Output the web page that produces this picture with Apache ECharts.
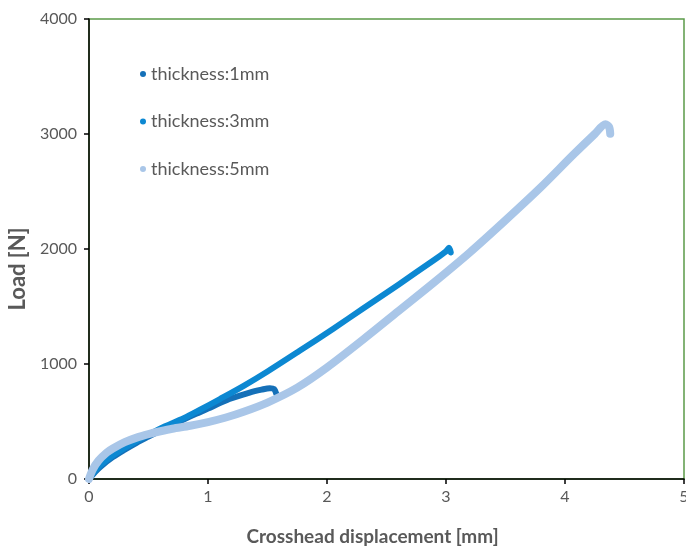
<!DOCTYPE html>
<html>
<head>
<meta charset="utf-8">
<script src="https://cdn.jsdelivr.net/npm/echarts@6/dist/echarts.min.js"></script>
<style>html,body{margin:0;padding:0;background:#fff;}#c{width:686px;height:552px;}</style>
</head>
<body>
<div id="c"></div>
<script>
var seriesNames = ['thickness:1mm', 'thickness:3mm', 'thickness:5mm'];
var xTicks = [0, 1, 2, 3, 4, 5];
var yTicks = [0, 1000, 2000, 3000, 4000];

var x1 = [0, 0.05, 0.1, 0.2, 0.3, 0.4, 0.5, 0.6, 0.7, 0.8, 0.9, 1.0, 1.1, 1.2, 1.35, 1.45, 1.52, 1.555, 1.575];
var y1 = [0, 60, 110, 190, 255, 315, 368, 420, 470, 520, 567, 612, 660, 702, 752, 777, 790, 782, 738];

var x3 = [0, 0.05, 0.1, 0.2, 0.3, 0.4, 0.5, 0.6, 0.8, 0.93, 1.1, 1.3, 1.5, 1.77, 2.05, 2.3, 2.6, 2.9, 3.0, 3.025, 3.04];
var y3 = [0, 70, 125, 205, 270, 330, 385, 440, 530, 600, 695, 810, 935, 1115, 1305, 1480, 1690, 1905, 1980, 2010, 1970];

var x5 = [0, 0.03, 0.08, 0.15, 0.2, 0.3, 0.4, 0.5, 0.6, 0.7, 0.85, 1.0, 1.15, 1.3, 1.5, 1.75, 2.0, 2.3, 2.6, 2.9, 3.2, 3.5, 3.8, 4.07, 4.25, 4.34, 4.37, 4.38];
var y5 = [0, 80, 160, 230, 265, 320, 360, 390, 415, 437, 463, 495, 535, 585, 665, 795, 970, 1210, 1460, 1710, 1970, 2250, 2540, 2820, 3000, 3085, 3062, 3002];

function pairs(xs, ys) { return xs.map(function (x, i) { return [x, ys[i]]; }); }

var grey = '#595959';
var font = 'Lato, "Open Sans", sans-serif';
var chart = echarts.init(document.getElementById('c'), null, {renderer: 'canvas'});
chart.setOption({
  animation: false,
  backgroundColor: '#ffffff',
  textStyle: {fontFamily: font},
  grid: {left: 89, right: 2, top: 19, bottom: 73, outerBoundsMode: 'none', containLabel: false,
         show: true, borderColor: '#5b9b48', borderWidth: 1.5, backgroundColor: 'transparent'},
  legend: {
    orient: 'vertical', left: 135, top: 60, itemGap: 29.5,
    icon: 'circle', itemWidth: 6, itemHeight: 6,
    textStyle: {fontSize: 18, color: grey, fontFamily: font},
    data: seriesNames
  },
  xAxis: {
    type: 'value', min: xTicks[0], max: xTicks[xTicks.length - 1], interval: 1,
    name: 'Crosshead displacement [mm]', nameLocation: 'middle', nameGap: 48,
    nameTextStyle: {fontSize: 19, fontWeight: 'bold', color: grey, fontFamily: font, padding: [0, 28, 0, 0]},
    axisLine: {lineStyle: {color: '#000', width: 1.5}},
    axisTick: {show: true, inside: false, length: 5, lineStyle: {color: '#000', width: 1.5}},
    axisLabel: {fontSize: 16, color: grey, margin: 10, fontFamily: font, formatter: function (v) { return String(v); }},
    splitLine: {show: false}
  },
  yAxis: {
    type: 'value', min: yTicks[0], max: yTicks[yTicks.length - 1], interval: 1000,
    name: 'Load [N]', nameLocation: 'middle', nameGap: 60,
    nameTextStyle: {fontSize: 22, fontWeight: 'bold', color: grey, fontFamily: font, padding: [0, 40, 0, 0]},
    axisLine: {show: true, lineStyle: {color: '#000', width: 1.5}},
    axisTick: {show: true, inside: false, length: 5, lineStyle: {color: '#000', width: 1.5}},
    axisLabel: {fontSize: 16, color: grey, margin: 12, fontFamily: font, formatter: function (v) { return String(v); }},
    splitLine: {show: false}
  },
  series: [
    {name: seriesNames[0], type: 'line', data: pairs(x1, y1), showSymbol: false, smooth: 0.3, z: 3,
     itemStyle: {color: '#1570b8'}, lineStyle: {color: '#1570b8', width: 6, cap: 'round', join: 'round'}},
    {name: seriesNames[1], type: 'line', data: pairs(x3, y3), showSymbol: false, smooth: 0.3, z: 4,
     itemStyle: {color: '#0c88d2'}, lineStyle: {color: '#0c88d2', width: 6, cap: 'round', join: 'round'}},
    {name: seriesNames[2], type: 'line', data: pairs(x5, y5), showSymbol: false, smooth: 0.3, z: 5,
     itemStyle: {color: '#a9c6e8'}, lineStyle: {color: '#a9c6e8', width: 8, cap: 'round', join: 'round'}}
  ]
});
</script>
</body>
</html>
